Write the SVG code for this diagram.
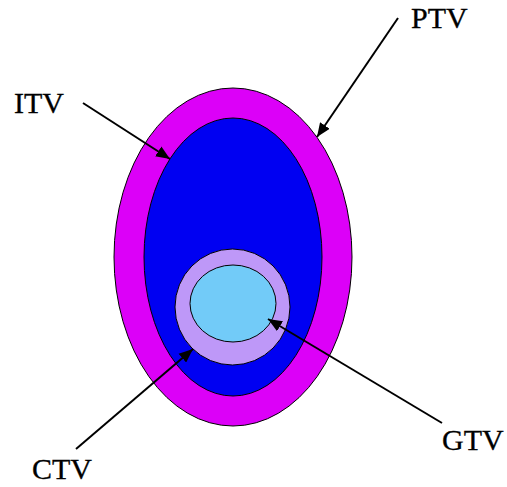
<svg xmlns="http://www.w3.org/2000/svg" width="507" height="487" viewBox="0 0 507 487">
<defs>
<style>
.lbl{font-family:"Liberation Serif","Times New Roman",serif;font-size:30px;fill:#000;stroke:#000;stroke-width:0.3}
.sh{stroke:#000;stroke-width:1}
.arr{stroke:#000;stroke-width:2;fill:none;marker-end:url(#ah)}
</style>
<marker id="ah" viewBox="0 0 12 10" refX="12" refY="5" markerWidth="7" markerHeight="6" orient="auto" markerUnits="strokeWidth">
<path d="M0,0 L12,5 L0,10 z" fill="#000"/>
</marker>
</defs>
<rect width="507" height="487" fill="#fff"/>
<g id="ptv-shape"><ellipse class="sh" cx="233" cy="257" rx="119" ry="169" fill="#DC00F8"/></g>
<g id="itv-shape"><ellipse class="sh" cx="233" cy="257" rx="89" ry="139" fill="#0000F2"/></g>
<g id="ctv-shape"><ellipse class="sh" cx="232.5" cy="307" rx="57.5" ry="58" fill="#BE98F8"/></g>
<g id="gtv-shape"><ellipse class="sh" cx="233" cy="303.5" rx="43" ry="38.5" fill="#72CBF8"/></g>
<g id="connectors">
<line class="arr" x1="398" y1="18" x2="317" y2="137"/>
<line class="arr" x1="83" y1="103" x2="170" y2="159"/>
<line class="arr" x1="76" y1="449" x2="193" y2="349"/>
<line class="arr" x1="442" y1="423" x2="268" y2="319"/>
</g>
<g id="ptv"><text class="lbl" x="411" y="28">PTV</text></g>
<g id="itv"><text class="lbl" x="14" y="113">ITV</text></g>
<g id="ctv"><text class="lbl" x="32" y="479">CTV</text></g>
<g id="gtv"><text class="lbl" x="442" y="450">GTV</text></g>
</svg>
